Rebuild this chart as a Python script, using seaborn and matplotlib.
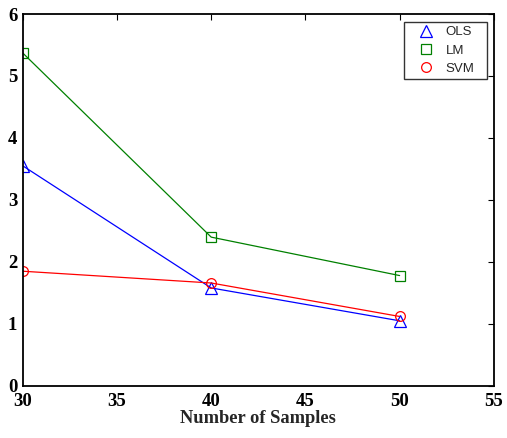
import matplotlib
matplotlib.use("Agg")
import matplotlib.pyplot as plt
from matplotlib.lines import Line2D
import seaborn as sns
import pandas as pd

samples = [30, 40, 50]
ols = [3.55, 1.58, 1.05]
lm = [5.37, 2.40, 1.78]
svm = [1.85, 1.66, 1.12]
series_names = ["OLS", "LM", "SVM"]
x_ticks = [30, 35, 40, 45, 50, 55]
y_ticks = [0, 1, 2, 3, 4, 5, 6]

sns.set_style("white")
plt.rcParams["font.family"] = ["DejaVu Sans"]

df = pd.DataFrame({
    "n": samples * 3,
    "err": ols + lm + svm,
    "method": [m for m in series_names for _ in samples],
})

styles = {
    "OLS": ("blue", "^", 8),
    "LM": ("green", "s", 7),
    "SVM": ("red", "o", 7),
}

fig = plt.figure(figsize=(5.07, 4.38), dpi=100)
ax = fig.add_axes([0.045, 0.119, 0.929, 0.849])

for name in series_names:
    color, marker, ms = styles[name]
    sub = df[df["method"] == name]
    sns.lineplot(data=sub, x="n", y="err", ax=ax, color=color, marker=marker,
                 markersize=ms, markerfacecolor="none", markeredgecolor=color,
                 markeredgewidth=0.9, linewidth=0.9, legend=False)

tick_font = {"family": "Liberation Serif", "weight": "bold", "size": 13.5}
ax.set_xlim(30, 55)
ax.set_ylim(0, 6)
ax.set_xticks(x_ticks)
ax.set_yticks(y_ticks)
ax.set_xticklabels([str(v) for v in x_ticks], fontdict=tick_font)
ax.set_yticklabels([str(v) for v in y_ticks], fontdict=tick_font)
ax.tick_params(axis="x", direction="in", length=4, width=0.8, top=True,
               pad=5, colors="black")
ax.tick_params(axis="y", direction="in", length=4, width=0.8, right=True,
               pad=4, colors="black")
ax.set_xlabel("Number of Samples", fontfamily="Liberation Serif",
              fontweight="bold", fontsize=13.3, labelpad=0)
ax.set_ylabel("")
for sp in ax.spines.values():
    sp.set_visible(True)
    sp.set_color("black")
    sp.set_linewidth(1.3)

# marker-only legend entries in a boxed legend at the upper right
handles = [Line2D([], [], linestyle="none", marker=styles[n][1],
                  markersize=styles[n][2], markerfacecolor="none",
                  markeredgecolor=styles[n][0], markeredgewidth=0.9)
           for n in series_names]
leg = ax.legend(handles, series_names, loc="upper left", mode="expand",
                bbox_to_anchor=(0.809, 0.0, 0.176, 0.978),
                prop={"family": "Liberation Sans", "size": 9.5},
                frameon=True, fancybox=False, edgecolor="black",
                handlelength=2.7, handletextpad=0.15, borderpad=0.3,
                labelspacing=0.45, borderaxespad=0.0)
leg.get_frame().set_linewidth(1.0)

fig.savefig("out.png", dpi=100)
